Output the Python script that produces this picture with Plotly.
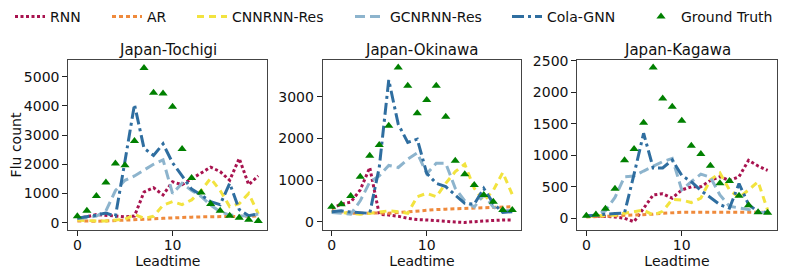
import plotly.graph_objects as go

# ---------------- data ----------------
leadtime = list(range(20))
regions = ["Japan-Tochigi", "Japan-Okinawa", "Japan-Kagawa"]
model_names = ["RNN", "AR", "CNNRNN-Res", "GCNRNN-Res", "Cola-GNN"]

gt_tochigi = [220, 410, 910, 1380, 2030, 1970, 2800, 5300, 4450, 4420, 3970, 2520, 1530, 1030, 640, 410, 240, 170, 100, 60]
rnn_tochigi = [150, 200, 280, 250, 220, 200, 230, 1050, 1200, 950, 1400, 1300, 1500, 1700, 1900, 1750, 1450, 2200, 1300, 1600]
ar_tochigi = [60, 50, 50, 60, 70, 80, 90, 110, 130, 150, 170, 180, 190, 200, 200, 210, 210, 220, 220, 230]
cnn_tochigi = [90, 70, 60, 60, 80, 120, 280, 150, 220, 600, 720, 620, 780, 1100, 1520, 1100, 550, 650, 1000, 300]
gcn_tochigi = [150, 170, 230, 400, 1100, 1450, 1600, 1800, 2000, 2150, 1000, 1350, 1100, 900, 600, 380, 260, 240, 230, 300]
cola_tochigi = [150, 200, 260, 330, 220, 2100, 4050, 2550, 2300, 2700, 2050, 1600, 1150, 950, 720, 620, 1350, 450, 240, 300]

gt_okinawa = [360, 420, 615, 1080, 1580, 1840, 2300, 3700, 3260, 2600, 2920, 3260, 2520, 1460, 1140, 880, 640, 480, 280, 280]
rnn_okinawa = [320, 420, 470, 760, 1300, 180, 160, 130, 80, 50, 40, 30, 10, -10, -20, 0, 20, 30, 40, 40]
ar_okinawa = [260, 230, 200, 200, 210, 210, 200, 220, 230, 260, 280, 290, 300, 310, 320, 330, 340, 350, 360, 360]
cnn_okinawa = [240, 220, 200, 180, 200, 230, 260, 240, 200, 600, 680, 600, 920, 1200, 1380, 800, 500, 750, 1180, 650]
gcn_okinawa = [220, 200, 180, 500, 950, 1100, 1350, 1300, 1500, 1650, 1150, 1400, 1400, 800, 500, 350, 650, 350, 250, 280]
cola_okinawa = [240, 260, 230, 220, 200, 1300, 3400, 2340, 1900, 1980, 1160, 920, 840, 640, 440, 420, 800, 440, 220, 240]

gt_kagawa = [40, 60, 150, 470, 920, 1100, 1517, 2394, 1903, 1770, 1549, 1150, 1020, 833, 555, 592, 359, 205, 95, 87]
rnn_kagawa = [40, 40, 30, 20, 0, -55, 160, 370, 390, 320, 450, 500, 500, 600, 660, 600, 660, 920, 830, 760]
ar_kagawa = [20, 25, 30, 35, 40, 45, 55, 65, 80, 90, 95, 95, 95, 95, 95, 95, 95, 95, 95, 95]
cnn_kagawa = [30, 40, 50, 50, 80, 100, 130, 50, 110, 300, 290, 250, 320, 610, 720, 450, 330, 450, 580, 130]
gcn_kagawa = [40, 50, 120, 330, 660, 670, 750, 820, 900, 950, 450, 580, 700, 650, 370, 190, 160, 140, 90, 90]
cola_kagawa = [36, 55, 65, 75, 85, 700, 1350, 800, 800, 925, 680, 580, 440, 330, 215, 160, 550, 220, 100, 95]

y_ticks_tochigi = [0, 1000, 2000, 3000, 4000, 5000]
y_ticks_okinawa = [0, 1000, 2000, 3000]
y_ticks_kagawa = [0, 500, 1000, 1500, 2000, 2500]
x_ticks = [0, 10]

# ---------------- styling ----------------
FONT = "DejaVu Sans"
PAGE_OFFSET = 8          # default body margin of the html page
W, H = 789 - PAGE_OFFSET, 273 - PAGE_OFFSET
styles = {
    "RNN": dict(color="#a8134f", dash="3px,2.5px", width=3),
    "AR": dict(color="#ef8a3c", dash="4px,3px", width=3),
    "CNNRNN-Res": dict(color="#f2e33f", dash="7px,5px", width=3),
    "GCNRNN-Res": dict(color="#8db4cd", dash="10px,5px", width=3),
    "Cola-GNN": dict(color="#2f6ea0", dash="12px,4px,3px,4px", width=3),
}
legend_px = {"RNN": 2, "AR": 99, "CNNRNN-Res": 184, "GCNRNN-Res": 342, "Cola-GNN": 499, "Ground Truth": 633}
legend_ids = {"RNN": "legend", "AR": "legend2", "CNNRNN-Res": "legend3",
              "GCNRNN-Res": "legend4", "Cola-GNN": "legend5", "Ground Truth": "legend6"}

panels = [
    (gt_tochigi, [rnn_tochigi, ar_tochigi, cnn_tochigi, gcn_tochigi, cola_tochigi], y_ticks_tochigi, [-250, 5570]),
    (gt_okinawa, [rnn_okinawa, ar_okinawa, cnn_okinawa, gcn_okinawa, cola_okinawa], y_ticks_okinawa, [-200, 3880]),
    (gt_kagawa, [rnn_kagawa, ar_kagawa, cnn_kagawa, gcn_kagawa, cola_kagawa], y_ticks_kagawa, [-186, 2513]),
]
x_domains_px = [(68.3, 267.3), (322.7, 521.3), (577.3, 776.7)]
y_top_px, y_bot_px = 60, 230
y_domain = [1 - (y_bot_px - PAGE_OFFSET) / H, 1 - (y_top_px - PAGE_OFFSET) / H]

fig = go.Figure()
layout = dict(
    width=W, height=H, margin=dict(l=0, r=0, t=0, b=0, autoexpand=False),
    paper_bgcolor="white", plot_bgcolor="white",
    font=dict(family=FONT, size=14, color="#111"),
    annotations=[],
)

for i, (gt, models, yt, yr) in enumerate(panels):
    sfx = "" if i == 0 else str(i + 1)
    xa, ya = "x" + sfx, "y" + sfx
    for name, vals in zip(model_names, models):
        st = styles[name]
        fig.add_trace(go.Scatter(
            x=leadtime, y=vals, mode="lines", name=name,
            line=dict(color=st["color"], dash=st["dash"], width=st["width"]),
            xaxis=xa, yaxis=ya, showlegend=(i == 0), legend=legend_ids[name],
        ))
    fig.add_trace(go.Scatter(
        x=leadtime, y=gt, mode="markers", name="Ground Truth",
        marker=dict(symbol="triangle-up", color="green", size=8),
        xaxis=xa, yaxis=ya, showlegend=(i == 0), legend=legend_ids["Ground Truth"],
    ))
    d0, d1 = [v - PAGE_OFFSET for v in x_domains_px[i]]
    layout["xaxis" + sfx] = dict(
        domain=[d0 / W, d1 / W], range=[-0.95, 19.95], anchor=ya, automargin=False,
        tickvals=x_ticks, ticks="outside", ticklen=5, tickcolor="#222",
        ticklabelstandoff=-3,
        showline=True, mirror=True, linecolor="#444", linewidth=1,
        showgrid=False, zeroline=False,
        title=dict(text="Leadtime", standoff=0, font=dict(size=14)),
        tickfont=dict(size=14),
    )
    layout["yaxis" + sfx] = dict(
        domain=y_domain, range=yr, anchor=xa, automargin=False,
        tickvals=yt, ticks="outside", ticklen=5, tickcolor="#222",
        showline=True, mirror=True, linecolor="#444", linewidth=1,
        showgrid=False, zeroline=False, tickfont=dict(size=14),
    )
    if i == 0:
        layout["yaxis"]["title"] = dict(text="Flu count", standoff=0, font=dict(size=14))
    layout["annotations"].append(dict(
        text=regions[i], x=(d0 + d1) / 2 / W, y=y_domain[1], xref="paper", yref="paper",
        xanchor="center", yanchor="bottom", yshift=-1, showarrow=False,
        font=dict(size=15, family=FONT, color="#111"),
    ))

for name, lid in legend_ids.items():
    layout[lid] = dict(
        x=(legend_px[name]) / W, y=1 - 9 / H, xanchor="left", yanchor="middle",
        orientation="h", bgcolor="rgba(0,0,0,0)", borderwidth=0,
        font=dict(size=14, family=FONT, color="#111"),
    )

fig.update_layout(**layout)
fig.write_html("out.html")
